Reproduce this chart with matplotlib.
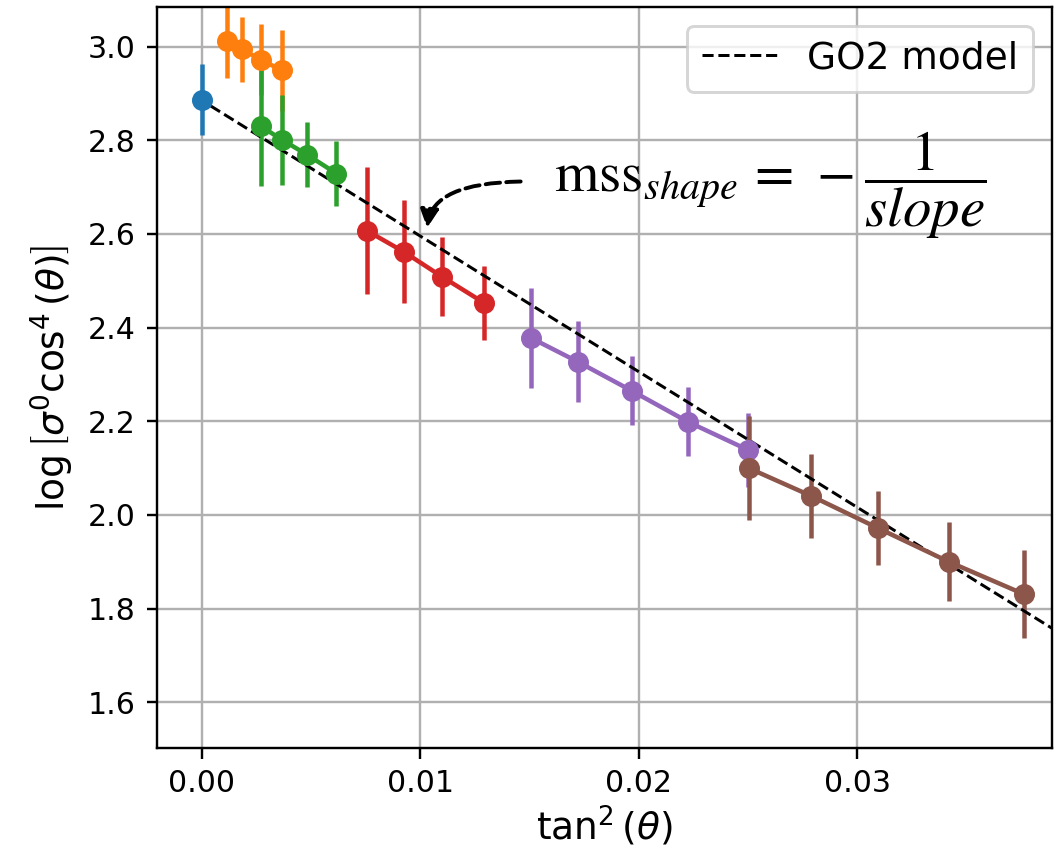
import matplotlib
matplotlib.use("Agg")
import numpy as np
import matplotlib.pyplot as plt

# tan^2(theta) bins, one group per incidence-angle range
x_blue = [0.0]
y_blue = [2.887]
e_blue = [0.076]

x_orange = [0.00113, 0.00184, 0.00270, 0.00367]
y_orange = [3.013, 2.994, 2.972, 2.949]
e_orange = [0.079, 0.069, 0.076, 0.086]

x_green = [0.00270, 0.00367, 0.00482, 0.00616]
y_green = [2.830, 2.801, 2.769, 2.729]
e_green = [0.128, 0.096, 0.069, 0.069]

x_red = [0.00755, 0.00924, 0.01098, 0.01291]
y_red = [2.607, 2.562, 2.509, 2.453]
e_red = [0.135, 0.110, 0.084, 0.079]

x_purple = [0.01506, 0.01721, 0.01968, 0.02224, 0.02499]
y_purple = [2.378, 2.327, 2.265, 2.199, 2.139]
e_purple = [0.106, 0.087, 0.074, 0.074, 0.079]

x_brown = [0.02503, 0.02787, 0.03094, 0.03419, 0.03762]
y_brown = [2.100, 2.041, 1.972, 1.900, 1.831]
e_brown = [0.111, 0.090, 0.079, 0.085, 0.093]

# GO2 model fit: log(sigma0 cos^4) = intercept + slope * tan^2
go2_intercept = 2.885
go2_slope = -28.96
go2_x = [0.0004, 0.040]

groups = [
    (x_blue, y_blue, e_blue),
    (x_orange, y_orange, e_orange),
    (x_green, y_green, e_green),
    (x_red, y_red, e_red),
    (x_purple, y_purple, e_purple),
    (x_brown, y_brown, e_brown),
]

fig, ax = plt.subplots(figsize=(1060 / 216, 852 / 216), dpi=216)
fig.subplots_adjust(left=0.148, right=0.992, bottom=0.122, top=0.992)

for x, y, e in groups:
    ax.errorbar(x, y, yerr=e, fmt="-o")

gx = np.array(go2_x)
ax.plot(gx, go2_intercept + go2_slope * gx, "k--", lw=1.0, label="GO2 model")

ax.annotate(
    "",
    xy=(0.0103, 2.600),
    xytext=(0.01487, 2.712),
    arrowprops=dict(
        arrowstyle="-|>,head_length=0.5,head_width=0.25",
        connectionstyle="angle3,angleA=0,angleB=90",
        color="k",
        lw=1.3,
        linestyle="--",
    ),
)
ax.text(
    0.0161,
    2.705,
    r"$\mathrm{mss}_{shape}\,=\,-\dfrac{1}{slope}$",
    fontsize=19,
    math_fontfamily="stix",
    ha="left",
    va="center",
)

ax.set_xlim(-0.00206, 0.0389)
ax.set_ylim(1.502, 3.085)
ax.set_xticks([0.0, 0.01, 0.02, 0.03])
ax.set_yticks([1.6, 1.8, 2.0, 2.2, 2.4, 2.6, 2.8, 3.0])
ax.grid(True)
ax.set_xlabel(r"$\tan^2(\theta)$", fontsize=12.5, labelpad=2)
ax.set_ylabel(r"$\log\left[\sigma^0\cos^4(\theta)\right]$", fontsize=12.5)
ax.legend(loc="upper right", fontsize=12.5)

fig.savefig("out.png", dpi=216)
